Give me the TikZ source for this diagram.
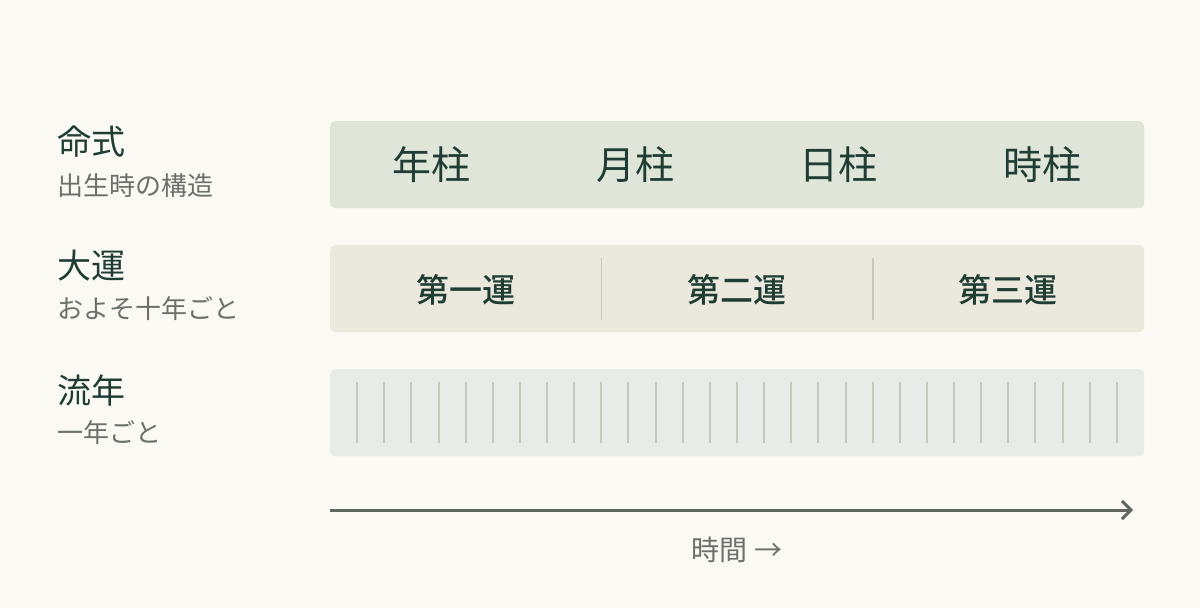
\documentclass[tikz,border=0pt]{standalone}
\usepackage{fontspec}
\setmainfont{Noto Sans CJK JP}
\newfontfamily\medfont{Noto Sans CJK JP Medium}
\usetikzlibrary{arrows.meta}
\definecolor{bgc}{HTML}{FAF9F4}
\definecolor{rowa}{HTML}{DFE5D8}
\definecolor{rowb}{HTML}{EBE8DD}
\definecolor{rowc}{HTML}{E9EBE8}
\definecolor{tickc}{HTML}{C2CBB9}
\definecolor{divc}{HTML}{C6C8BD}
\definecolor{darkc}{HTML}{1F3D33}
\definecolor{subc}{HTML}{6B706B}
\definecolor{arrc}{HTML}{5F675D}
\tikzset{
  rowbox/.style={draw=none, rounded corners=5pt, minimum width=814pt, minimum height=87pt, inner sep=0pt, anchor=north west},
  headlbl/.style={anchor=west, inner sep=0pt, text=darkc, font=\fontsize{34}{40}\selectfont},
  sublbl/.style={anchor=west, inner sep=0pt, text=subc, font=\fontsize{26}{30}\selectfont},
  pillar/.style={inner sep=0pt, text=darkc, font=\fontsize{39}{46}\selectfont},
  period/.style={inner sep=0pt, text=darkc, font=\fontsize{33}{40}\selectfont\medfont},
  tickline/.style={draw=tickc, line width=2pt},
  divline/.style={draw=divc, line width=1.6pt},
}
\begin{document}
\begin{tikzpicture}[x=1pt,y=-1pt]
\useasboundingbox[fill=bgc] (0,0) rectangle (1200,608);
% row labels
\node[headlbl] (l1) at (57,142) {命式};
\node[sublbl] (s1) at (57,186) {出生時の構造};
\node[headlbl] (l2) at (57,266) {大運};
\node[sublbl] (s2) at (57,309) {およそ十年ごと};
\node[headlbl] (l3) at (57,391) {流年};
\node[sublbl] (s3) at (57,433) {一年ごと};
% boxes
\node[rowbox, fill=rowa] (r1) at (330,121) {};
\node[rowbox, fill=rowb] (r2) at (330,245) {};
\node[rowbox, fill=rowc] (r3) at (330,369) {};
% row 1 pillars
\node[pillar] (p1) at (431.75,165) {年柱};
\node[pillar] (p2) at (635.25,165) {月柱};
\node[pillar] (p3) at (838.75,165) {日柱};
\node[pillar] (p4) at (1042.25,165) {時柱};
% row 2 periods
\node[period] (d1) at (465.7,290) {第一運};
\node[period] (d2) at (737,290) {第二運};
\node[period] (d3) at (1008.3,290) {第三運};
\draw[divline] (601.3,258) -- (601.3,320);
\draw[divline] (872.7,258) -- (872.7,320);
% row 3 ticks
\foreach \k in {1,...,29} {
  \draw[tickline] ({330+\k*27.1333},382) -- ({330+\k*27.1333},443);
}
% time arrow
\coordinate (a0) at (330,510);
\coordinate (a1) at (1133,510);
\draw[draw=arrc, line width=3pt, -{Straight Barb[length=9pt, width=18pt, line width=3pt]}] (a0) -- (a1);
\node[inner sep=0pt, text=subc, font=\fontsize{28}{32}\selectfont] (tl) at (737,550) {時間 →};
\end{tikzpicture}
\end{document}
